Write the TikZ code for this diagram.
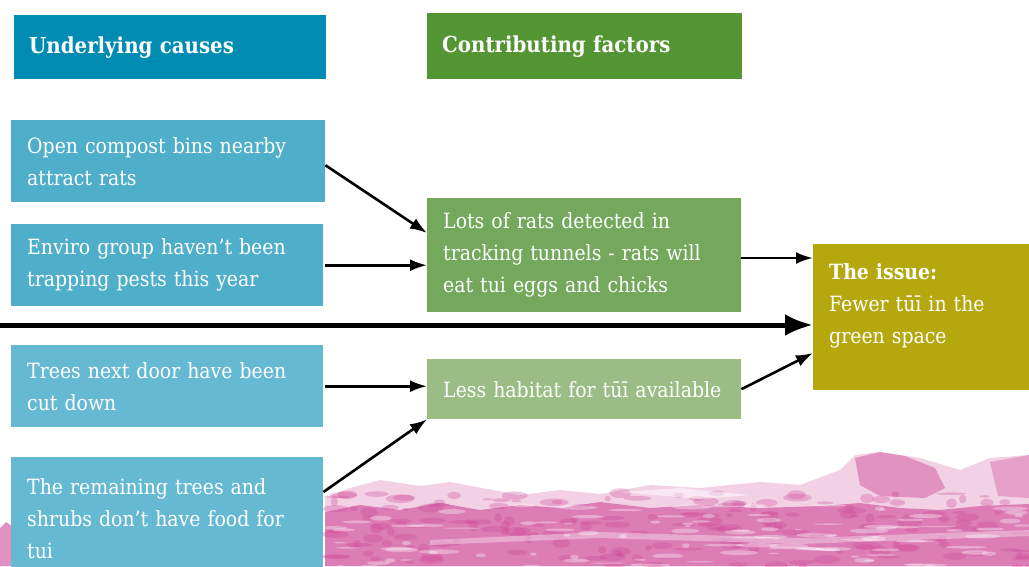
\documentclass[tikz,border=0pt]{standalone}
\usepackage{fontspec}
\setmainfont{DejaVu Serif Condensed}
\usetikzlibrary{arrows.meta}
\definecolor{hdrblue}{RGB}{0,139,178}
\definecolor{hdrgreen}{RGB}{84,149,51}
\definecolor{causeA}{RGB}{79,174,202}
\definecolor{causeC}{RGB}{102,185,210}
\definecolor{factE}{RGB}{116,168,92}
\definecolor{factF}{RGB}{153,189,133}
\definecolor{issuec}{RGB}{180,168,14}
\definecolor{pinkc}{RGB}{205,70,150}
\tikzset{
  boxbase/.style={anchor=north west, inner xsep=16pt, inner ysep=0pt, align=left,
     text=white, font=\fontsize{21}{32}\selectfont},
  hdr/.style={boxbase, font=\bfseries\fontsize{22}{24}\selectfont, inner xsep=15pt},
  arr/.style={-{Latex[length=17pt,width=12pt]}, line width=2.6pt, black},
  bigarr/.style={-{Latex[length=28pt,width=22pt]}, line width=5pt, black},
}
\begin{document}
\begin{tikzpicture}[x=1pt,y=-1pt]
\useasboundingbox (0,0) rectangle (1029,566);
\begin{scope}
\clip (0,0) rectangle (1029,566);
% pink brush decoration
\fill[pinkc, opacity=0.25] (325,498) -- (350,488) -- (380,480) -- (420,486) -- (450,482) -- (520,495) -- (560,490) -- (600,494) -- (650,485) -- (700,488) -- (760,482) -- (800,485) -- (840,470) -- (855,455) -- (880,452) -- (920,458) -- (960,470) -- (990,458) -- (1029,455) -- (1029,566) -- (325,566) -- cycle;
\fill[pinkc, opacity=0.6] (325,512) -- (360,505) -- (400,510) -- (440,503) -- (480,510) -- (520,505) -- (560,508) -- (600,502) -- (650,508) -- (700,505) -- (760,508) -- (820,506) -- (860,503) -- (900,508) -- (940,510) -- (980,506) -- (1029,504) -- (1029,566) -- (325,566) -- cycle;
\fill[pinkc, opacity=0.45] (855,458) -- (880,452) -- (905,456) -- (935,468) -- (945,488) -- (925,498) -- (880,496) -- (860,485) -- cycle;
\fill[pinkc, opacity=0.35] (990,462) -- (1029,455) -- (1029,498) -- (998,496) -- cycle;
\pgfmathsetseed{42}
\foreach \i in {1,...,200} {
  \pgfmathsetmacro{\px}{330+rnd*700}
  \pgfmathsetmacro{\py}{492+rnd*78}
  \pgfmathsetmacro{\rx}{3+rnd*12}
  \pgfmathsetmacro{\ry}{1+rnd*4}
  \fill[pinkc, opacity=0.3] (\px,\py) ellipse [x radius=\rx, y radius=\ry];
}
\foreach \i in {1,...,110} {
  \pgfmathsetmacro{\px}{330+rnd*700}
  \pgfmathsetmacro{\py}{505+rnd*61}
  \pgfmathsetmacro{\rx}{3+rnd*18}
  \pgfmathsetmacro{\ry}{0.5+rnd*2}
  \fill[white, opacity=0.35] (\px,\py) ellipse [x radius=\rx, y radius=\ry];
}
\fill[white, opacity=0.35] (430,540) -- (600,532) -- (800,538) -- (1029,530) -- (1029,536) -- (800,544) -- (600,538) -- (430,545) -- cycle;
\fill[white, opacity=0.5] (620,492) -- (680,488) -- (750,495) -- (700,499) -- cycle;
\fill[pinkc, opacity=0.6] (0,528) -- (6,522) -- (12,526) -- (12,566) -- (0,566) -- cycle;
% headers
\node[hdr, fill=hdrblue, text width=282pt, minimum height=64pt] (h1) at (14,15) {Underlying causes};
\node[hdr, fill=hdrgreen, text width=285pt, minimum height=66pt] (h2) at (427,13) {Contributing factors};
% causes
\node[boxbase, fill=causeA, text width=282pt, minimum height=82pt] (a) at (11,120) {Open compost bins nearby\\attract rats};
\node[boxbase, fill=causeA, text width=280pt, minimum height=82pt] (b) at (11,224) {Enviro group haven’t been\\trapping pests this year};
\node[boxbase, fill=causeC, text width=280pt, minimum height=82pt] (c) at (11,345) {Trees next door have been\\cut down};
\node[boxbase, fill=causeC, text width=280pt, minimum height=122pt] (d) at (11,457) {The remaining trees and\\shrubs don't have food for\\tui};
% factors
\node[boxbase, fill=factE, text width=282pt, minimum height=114pt] (e) at (427,198) {Lots of rats detected in\\tracking tunnels - rats will\\eat tui eggs and chicks};
\node[boxbase, fill=factF, text width=282pt, minimum height=60pt] (f) at (427,359) {\mbox{Less habitat for tūī available}};
% issue
\node[boxbase, fill=issuec, text width=184pt, minimum height=146pt] (g) at (813,244) {\textbf{The issue:}\\Fewer tūī in the\\green space\\[-4pt]\mbox{}};
\coordinate (s) at (0,325);
\end{scope}
% arrows
\draw[arr] (a.east) ++(0,4) -- (e.north west |- 0,233);
\draw[arr] (b.east) ++(2,0) -- (b.east -| e.west);
\draw[arr] (e.east |- 0,258) -- (g.west |- 0,258);
\draw[bigarr] (s) -- (g.west |- s);
\draw[arr] (c.east) ++(2,0) -- (c.east -| f.west);
\draw[arr] (d.north east) ++(0,35) -- (f.south west);
\draw[arr] (f.east) -- (g.west |- 0,353);
\end{tikzpicture}
\end{document}
